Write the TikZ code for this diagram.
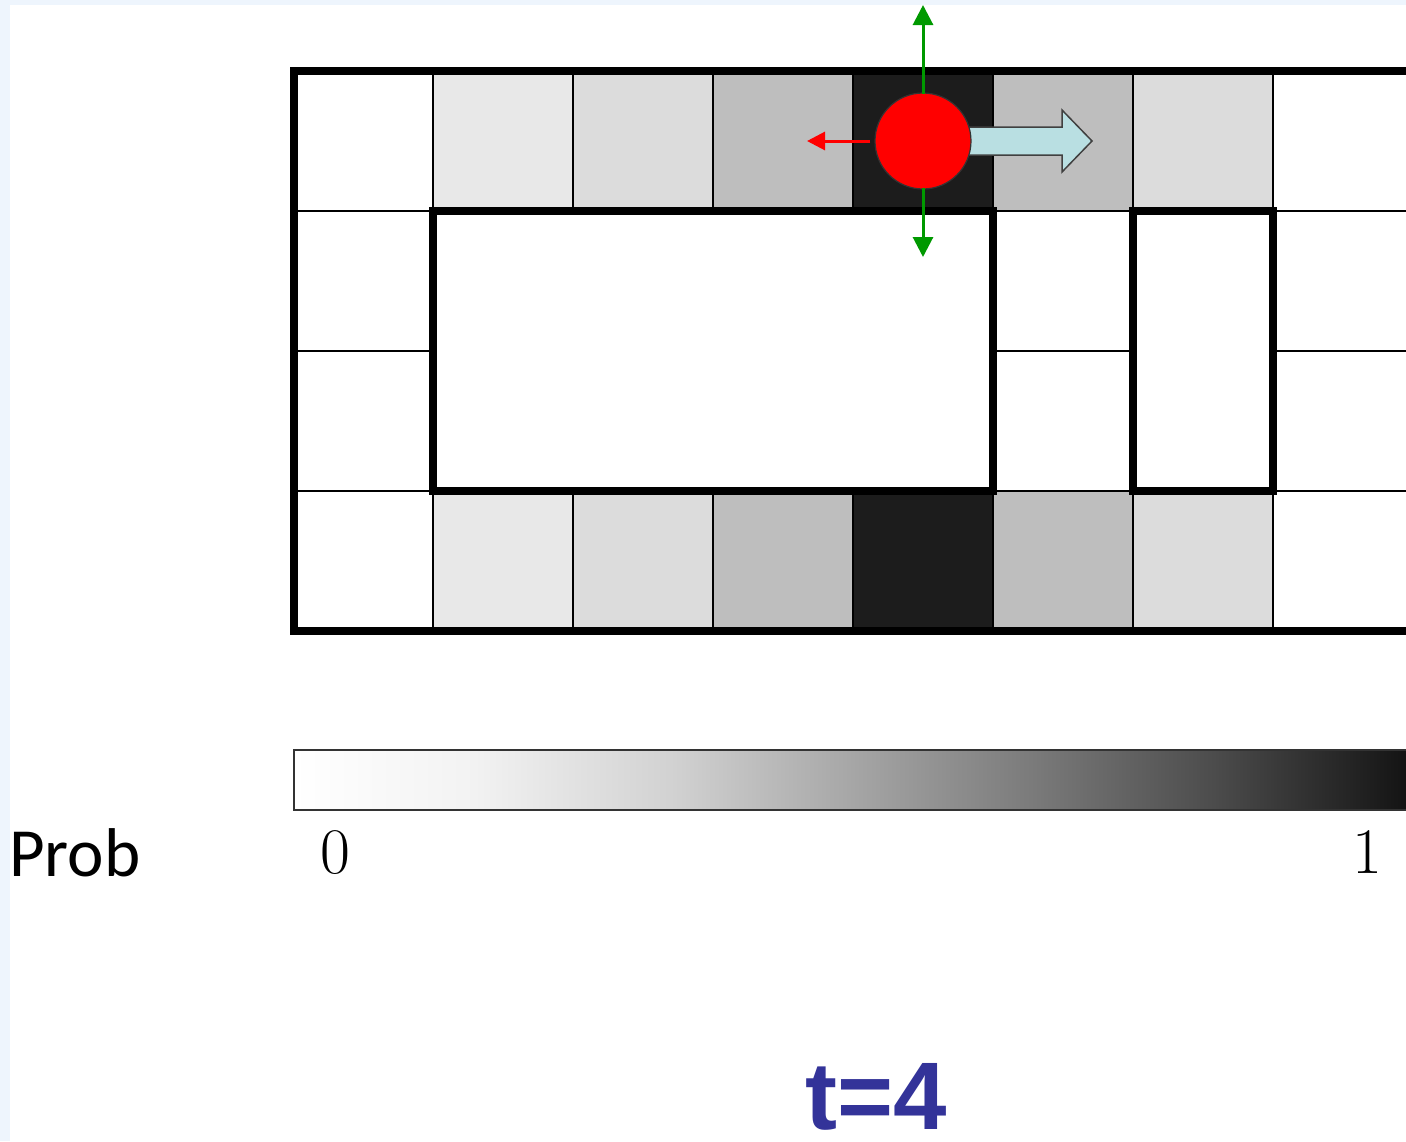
\documentclass[tikz,border=0pt]{standalone}
\usepackage{fontspec}
\usetikzlibrary{arrows.meta}
\newfontfamily\probfont{Carlito}
\newfontfamily\titlefont{Liberation Sans}
\definecolor{bgblue}{HTML}{EEF5FD}
\definecolor{pA}{HTML}{E8E8E8}
\definecolor{pB}{HTML}{DCDCDC}
\definecolor{pC}{HTML}{BEBEBE}
\definecolor{pD}{HTML}{1C1C1C}
\definecolor{fatblue}{HTML}{B9DFE2}
\definecolor{agentgreen}{HTML}{009900}
\definecolor{titleblue}{HTML}{333399}
\pgfdeclarehorizontalshading{cbar}{100bp}{color(0bp)=(white); color(25bp)=(white); color(33bp)=(black!5); color(42bp)=(black!18); color(50bp)=(black!35); color(58bp)=(black!52); color(66bp)=(black!70); color(75bp)=(black!93); color(100bp)=(black!93)}
\tikzset{
  thinline/.style={line width=2.5pt, black},
  thickline/.style={line width=7.5pt, black},
  greenarrow/.style={draw=agentgreen, line width=3pt, -{Triangle[width=20pt,length=20pt]}},
  redarrow/.style={draw=red, line width=3pt, -{Triangle[width=18pt,length=18pt]}},
  lbl/.style={inner sep=0pt, anchor=base, text depth=0pt},
}
\begin{document}
\begin{tikzpicture}[x=1pt,y=-1pt]
\useasboundingbox (0,0) rectangle (1406,1141);
\fill[bgblue] (0,0) rectangle (1406,1141);
\fill[white] (10,5) rectangle (1406,1141);
\begin{scope}
\clip (10,5) rectangle (1406,1141);
% cell fills, top and bottom rows
\foreach \y in {71,491}{
  \fill[pA] (433,\y) rectangle ++(140,140);
  \fill[pB] (573,\y) rectangle ++(140,140);
  \fill[pC] (713,\y) rectangle ++(140,140);
  \fill[pD] (853,\y) rectangle ++(140,140);
  \fill[pC] (993,\y) rectangle ++(140,140);
  \fill[pB] (1133,\y) rectangle ++(140,140);
}
% thin grid
\foreach \x in {433,573,713,853,993,1133,1273}{
  \draw[thinline] (\x,71) -- (\x,631);
}
\foreach \y in {211,351,491}{
  \draw[thinline] (294,\y) -- (1420,\y);
}
% walls
\draw[thickline, fill=white] (433,211) rectangle (993,491);
\draw[thickline, fill=white] (1133,211) rectangle (1273,491);
\draw[thickline] (294,71) rectangle (1413,631);
% colour bar
\draw[line width=2pt, draw=black!80, shading=cbar] (294,750) rectangle (1413,810);
% agent and arrows
\coordinate (upend) at (923,5);
\coordinate (downend) at (923,257);
\coordinate (leftend) at (807,141);
\fill[fatblue, draw=black!75, line width=1.5pt] (968,127) -- (1062,127) -- (1062,110) -- (1092,141) -- (1062,172) -- (1062,155) -- (968,155);
\node[circle, minimum size=96pt, inner sep=0pt, fill=red, draw=black!80, line width=1.2pt] (agent) at (923,141) {};
\draw[greenarrow] ([yshift=-2pt]agent.north) -- (upend);
\draw[greenarrow] ([yshift=2pt]agent.south) -- (downend);
\draw[redarrow] ([xshift=-4pt]agent.west) -- (leftend);
\end{scope}
% labels
\node[lbl, anchor=base west] (prob) at (9,876) {\probfont\fontsize{69}{74}\selectfont Prob};
\node[lbl] (zero) at (335,873) {\fontsize{65}{70}\selectfont 0};
\node[lbl] (one) at (1367,873) {\fontsize{65}{70}\selectfont 1};
\node[lbl, text=titleblue] (title) at (876,1129) {\titlefont\bfseries\fontsize{96}{100}\selectfont t=4};
\end{tikzpicture}
\end{document}
